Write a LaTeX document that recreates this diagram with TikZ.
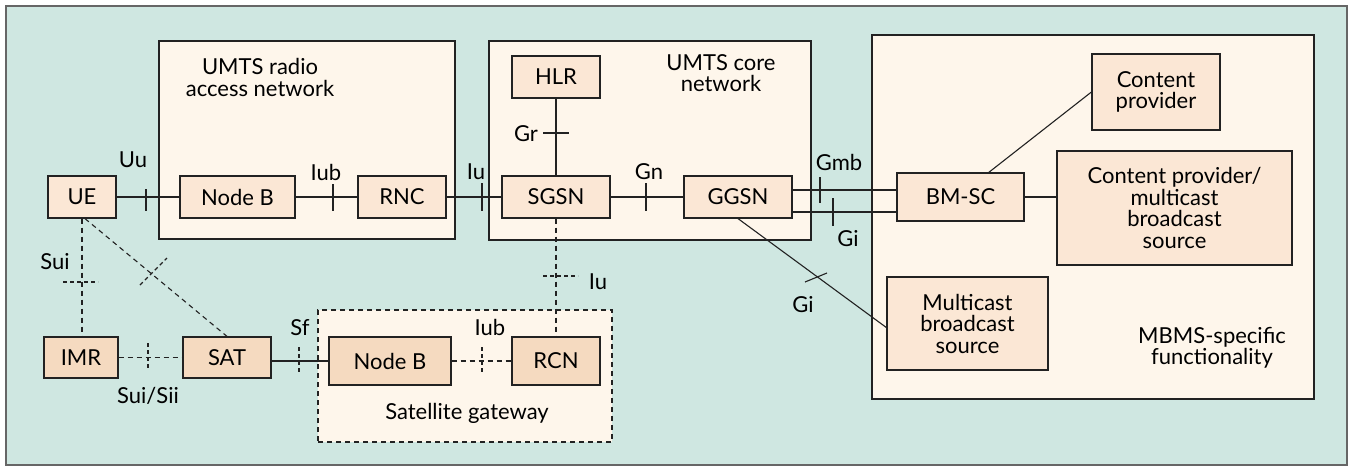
\documentclass[tikz,border=0pt]{standalone}
\usepackage{fontspec}
\setmainfont{Lato}
\definecolor{bgteal}{HTML}{CFE7E1}
\definecolor{cream}{HTML}{FEF6EB}
\definecolor{peachA}{HTML}{FBE7D5}
\definecolor{peachB}{HTML}{F5DAC0}
\definecolor{edge}{HTML}{222222}
\begin{document}
\begin{tikzpicture}[x=1pt,y=-1pt,
  font=\fontsize{22}{21.5}\selectfont,
  region/.style={draw=edge, fill=cream, line width=1.2pt, inner sep=0pt},
  sbox/.style={draw=edge, fill=peachA, line width=1.2pt, inner sep=0pt, align=center},
  sboxB/.style={sbox, fill=peachB},
  conn/.style={draw=edge, line width=1.1pt},
  dconn/.style={conn, dash pattern=on 5pt off 4pt},
  lbl/.style={inner sep=0pt, align=center}]
\useasboundingbox (0,0) rectangle (1351,466);
\draw[fill=bgteal, draw=black!60, line width=1.6pt] (6,6) rectangle (1347,465);

% regions
\node[region, minimum width=296pt, minimum height=198pt] (RAN) at (307,140) {};
\node[region, minimum width=322pt, minimum height=199pt] (CORE) at (650,140.5) {};
\node[region, minimum width=442pt, minimum height=364pt] (MBMS) at (1093,217) {};
\node[region, dash pattern=on 5pt off 4pt, minimum width=294pt, minimum height=132pt] (SGW) at (465,376) {};

\node[lbl] (tRAN) at (260,77.5) {UMTS radio\\access network};
\node[lbl] (tCORE) at (721,73) {UMTS core\\network};
\node[lbl] (tMBMS) at (1212,348) {MBMS-specific\\functionality};
\node[lbl] (tSGW) at (467,413) {Satellite gateway};

% small boxes
\node[sbox, minimum width=68pt, minimum height=42pt] (UE) at (82,197) {UE};
\node[sbox, minimum width=115pt, minimum height=42pt] (NB) at (237.5,197) {Node B};
\node[sbox, minimum width=88pt, minimum height=42pt] (RNC) at (402,197) {RNC};
\node[sbox, minimum width=108pt, minimum height=42pt] (SGSN) at (556,197) {SGSN};
\node[sbox, minimum width=108pt, minimum height=42pt] (GGSN) at (738,197) {GGSN};
\node[sbox, minimum width=88pt, minimum height=42pt] (HLR) at (556,77) {HLR};
\node[sbox, minimum width=127pt, minimum height=48pt] (BMSC) at (960.5,197) {BM-SC};
\node[sbox, minimum width=128pt, minimum height=76pt] (CP) at (1156,92) {Content\\provider};
\node[sbox, minimum width=235pt, minimum height=114pt] (CPMBS) at (1174.5,208) {Content provider/\\multicast\\broadcast\\source};
\node[sbox, minimum width=161pt, minimum height=93pt] (MBS) at (967.5,323.5) {Multicast\\broadcast\\source};
\node[sboxB, minimum width=74pt, minimum height=41pt] (IMR) at (81,357.5) {IMR};
\node[sboxB, minimum width=88pt, minimum height=41pt] (SAT) at (227,357.5) {SAT};
\node[sboxB, minimum width=122pt, minimum height=48pt] (NB2) at (390,361) {Node B};
\node[sboxB, minimum width=88pt, minimum height=48pt] (RCN) at (556,361) {RCN};

% helper coordinates
\coordinate (ygmb) at (0,190);
\coordinate (ygi) at (0,212);
\coordinate (ysat) at (0,361);
\coordinate (mbsin) at (887,328);
\coordinate (bmtop) at (988,173);

% solid connectors
\draw[conn] (UE) -- (NB);
\draw[conn] (NB) -- (RNC);
\draw[conn] (RNC) -- (SGSN);
\draw[conn] (SGSN) -- (GGSN);
\draw[conn] (HLR) -- (SGSN);
\draw[conn] (GGSN.east |- ygmb) -- (BMSC.west |- ygmb);
\draw[conn] (GGSN.east |- ygi) -- (BMSC.west |- ygi);
\draw[conn] (GGSN.south) -- (mbsin);
\draw[conn] (bmtop) -- (CP.west);
\draw[conn] (BMSC.east) -- (BMSC.east -| CPMBS.west);
\draw[conn] (SAT.east |- ysat) -- (NB2.west);

% dashed connectors
\draw[dconn] (UE.south) -- (UE.south |- IMR.north);
\draw[dconn] ([xshift=3pt]UE.south) -- (SAT.north);
\draw[dconn] (IMR) -- (SAT);
\draw[dconn] (NB2) -- (RCN);
\draw[dconn] (SGSN.south) -- (RCN.north);

% solid ticks
\draw[conn] (146,189) -- (146,211);
\draw[conn] (333,184) -- (333,211);
\draw[conn] (482,183) -- (482,211);
\draw[conn] (646,183) -- (646,211);
\draw[conn] (543,133) -- (569,133);
\draw[conn] (820,177) -- (820,203);
\draw[conn] (833,198) -- (833,226);
\draw[conn] (805,282) -- (827,273);

% dashed ticks
\draw[dconn, dash pattern=on 4pt off 3pt] (63,282) -- (98,282);
\draw[dconn, dash pattern=on 4pt off 3pt] (140,285) -- (167,258);
\draw[dconn, dash pattern=on 4pt off 3pt] (148,343) -- (148,370);
\draw[dconn, dash pattern=on 4pt off 3pt] (299,347) -- (299,373);
\draw[dconn, dash pattern=on 4pt off 3pt] (482,347) -- (482,374);
\draw[dconn, dash pattern=on 4pt off 3pt] (543,276) -- (578,276);

% interface labels
\node[lbl] (lUu) at (133,160) {Uu};
\node[lbl] (lIub) at (326,172) {Iub};
\node[lbl] (lIu) at (476,172) {Iu};
\node[lbl] (lGn) at (649,172) {Gn};
\node[lbl] (lGr) at (526,134) {Gr};
\node[lbl] (lGmb) at (839,162) {Gmb};
\node[lbl] (lGi) at (848,239) {Gi};
\node[lbl] (lGi2) at (803,305) {Gi};
\node[lbl] (lSui) at (55,262) {Sui};
\node[lbl] (lSuiSii) at (148,396) {Sui/Sii};
\node[lbl] (lSf) at (300,328) {Sf};
\node[lbl] (lIub2) at (490,327) {Iub};
\node[lbl] (lIu2) at (598,282) {Iu};
\end{tikzpicture}
\end{document}
